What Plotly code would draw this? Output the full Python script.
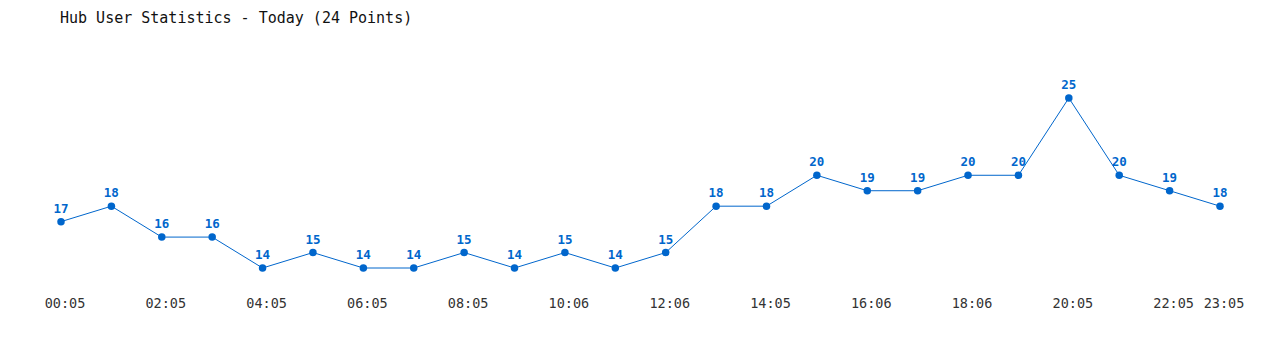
import plotly.graph_objects as go

times = ["00:05", "01:05", "02:05", "03:05", "04:05", "05:05", "06:05", "07:05",
         "08:05", "09:05", "10:06", "11:06", "12:06", "13:05", "14:05", "15:05",
         "16:06", "17:06", "18:06", "19:05", "20:05", "21:05", "22:05", "23:05"]
users = [17, 18, 16, 16, 14, 15, 14, 14, 15, 14, 15, 14, 15, 18, 18, 20,
         19, 19, 20, 20, 25, 20, 19, 18]
tick_labels = ["00:05", "02:05", "04:05", "06:05", "08:05", "10:06", "12:06",
               "14:05", "16:06", "18:06", "20:05", "22:05", "23:05"]

color = "#0066cc"
mono = "DejaVu Sans Mono"

idx = list(range(len(times)))
tickvals = [times.index(t) for t in tick_labels]

fig = go.Figure()
fig.add_trace(go.Scatter(
    x=idx, y=users,
    mode="lines+markers+text",
    line=dict(color=color, width=1),
    marker=dict(color=color, size=7.5),
    text=[str(v) for v in users],
    textposition="top center",
    textfont=dict(family=mono, size=12.5, color=color, weight="bold"),
    cliponaxis=False,
    hoverinfo="x+y",
))

# pixel mapping: point 0 at x=61, point 23 at x=1220
px_per = (1220 - 61) / 23
x0 = -61 / px_per
x1 = (1280 - 61) / px_per

# y mapping: 14 -> 268px, 25 -> 98px; plot area 40..292
ppu = (268 - 98) / 11
top, bottom = 40, 292
ymax = 14 + (268 - top) / ppu
ymin = 14 - (bottom - 268) / ppu

fig.update_layout(
    width=1280, height=350,
    margin=dict(l=0, r=0, t=top, b=350 - bottom),
    paper_bgcolor="white", plot_bgcolor="white",
    showlegend=False,
    title=dict(text="Hub User Statistics - Today (24 Points)",
               x=60 / 1280, xanchor="left", xref="paper",
               y=1 - 18 / 350, yanchor="middle", yref="container",
               font=dict(family=mono, size=15, color="#111111")),
    xaxis=dict(range=[x0, x1], tickvals=tickvals,
               ticktext=[times[i] for i in tickvals],
               showgrid=False, zeroline=False, showline=False,
               ticks="", ticklen=0, ticklabelshift=4, ticklabelstandoff=1,
               tickfont=dict(family=mono, size=13.5, color="#333333")),
    yaxis=dict(range=[ymin, ymax], visible=False, showgrid=False, zeroline=False),
)

fig.write_html("out.html")
